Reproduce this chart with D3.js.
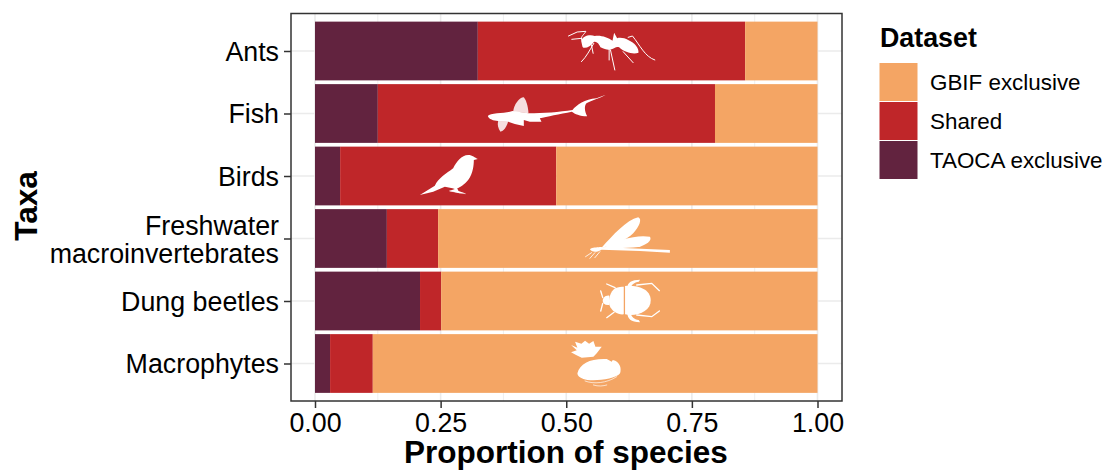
<!DOCTYPE html>
<html>

<head>
    <meta charset="utf-8">
    <script src="https://d3js.org/d3.v7.min.js"></script>
    <style>
        html, body { margin: 0; padding: 0; background: #fff; }
        svg { display: block; }
        text { font-family: "Liberation Sans", Arial, sans-serif; fill: #000; }
    </style>
</head>

<body>
    <script>
        // values
        const taxa = ["Ants", "Fish", "Birds", "Freshwater\nmacroinvertebrates", "Dung beetles", "Macrophytes"];
        const taoca = [0.324, 0.125, 0.05, 0.143, 0.209, 0.03];
        const shared = [0.532, 0.671, 0.43, 0.102, 0.042, 0.085];
        const gbif = [0.144, 0.204, 0.52, 0.755, 0.749, 0.885];

        const seriesNames = ["TAOCA exclusive", "Shared", "GBIF exclusive"];
        const seriesColors = ["#62233f", "#bf2629", "#f4a564"];
        const legendOrder = ["GBIF exclusive", "Shared", "TAOCA exclusive"];
        const xTicks = [0, 0.25, 0.5, 0.75, 1];
        const xMinor = [0.125, 0.375, 0.625, 0.875];

        // where the silhouette sits along each bar
        const iconAt = [0.59, 0.46, 0.265, 0.62, 0.625, 0.56];

        const width = 1104;
        const height = 470;
        const panel = { left: 291, right: 842, top: 13.5, bottom: 401 };

        const svg = d3.select("body").append("svg")
            .attr("width", width)
            .attr("height", height);

        const x = d3.scaleLinear().domain([0, 1]).range([315, 817.5]);
        const y = d3.scalePoint().domain(taxa).range([panel.top, panel.bottom]).padding(0.6);
        const barH = y.step() * 0.94;
        const color = d3.scaleOrdinal().domain(seriesNames).range(seriesColors);

        // grid
        svg.append("g").selectAll("line").data(xMinor).join("line")
            .attr("x1", d => x(d)).attr("x2", d => x(d))
            .attr("y1", panel.top).attr("y2", panel.bottom)
            .attr("stroke", "#ebebeb").attr("stroke-width", 0.8);
        svg.append("g").selectAll("line").data(xTicks).join("line")
            .attr("x1", d => x(d)).attr("x2", d => x(d))
            .attr("y1", panel.top).attr("y2", panel.bottom)
            .attr("stroke", "#ebebeb").attr("stroke-width", 1.6);
        svg.append("g").selectAll("line").data(taxa).join("line")
            .attr("x1", panel.left).attr("x2", panel.right)
            .attr("y1", d => y(d)).attr("y2", d => y(d))
            .attr("stroke", "#ebebeb").attr("stroke-width", 1.6);

        // stacked bars
        const rows = taxa.map((t, i) => ({
            taxon: t,
            "TAOCA exclusive": taoca[i],
            "Shared": shared[i],
            "GBIF exclusive": gbif[i]
        }));
        const stacked = d3.stack().keys(seriesNames)(rows);

        svg.append("g").selectAll("g").data(stacked).join("g")
            .attr("fill", d => color(d.key))
            .selectAll("rect").data(d => d).join("rect")
            .attr("x", d => x(d[0]))
            .attr("width", d => x(d[1]) - x(d[0]))
            .attr("y", d => y(d.data.taxon) - barH / 2)
            .attr("height", barH);

        // white silhouettes, drawn at 3x and scaled down
        const icons = [
            { // ant
                cx: 395, cy: 123,
                fill: ["M304,92C308,78 330,72 345,78C360,74 385,82 398,92L403,68L412,85C420,82 435,84 445,90C465,98 478,115 476,128C462,134 435,128 418,112C410,108 403,115 395,118C385,122 375,118 362,112C358,100 348,92 342,96C332,112 312,118 308,110Z"],
                line: ["M306,90C300,80 315,72 318,64L292,66L266,78", "M305,85L276,88", "M342,100C330,120 320,140 305,155", "M335,105L340,130", "M388,115L388,150", "M392,120L405,180", "M445,82L458,78C480,105 495,140 525,150", "M430,125L460,158"],
                lineW: 3
            },
            { // fish
                cx: 199, cy: 310.5,
                fill: ["M24,318C30,308 70,310 90,305L98,303L146,310C190,310 240,306 278,300C290,285 315,268 350,265L378,254C360,265 335,270 320,280C312,290 315,305 322,319C300,318 285,312 276,305C240,312 200,320 180,325L185,335L150,335L132,330L132,348L105,342L85,335L55,333C40,332 28,328 24,318Z"],
                soft: ["M100,305C102,285 118,262 132,262C142,275 145,295 146,310Z", "M85,334C82,350 70,365 62,365C55,355 52,345 55,333Z"],
                line: [], lineW: 0
            },
            { // bird
                cx: 115, cy: 93,
                fill: ["M30,150L75,122C85,100 110,85 130,70C140,50 155,30 175,30C188,30 195,38 204,42L192,45C192,60 190,85 175,105C165,118 150,128 142,130L146,138L165,145L148,145L130,140L118,138L135,132L128,130L105,125L70,140Z"],
                line: ["M120,138L166,146"], lineW: 2
            },
            { // damselfly
                cx: 260, cy: 100.5,
                fill: ["M150,133C158,126 170,128 180,126L390,135L390,143L300,138L185,134C175,140 160,145 150,133Z",
                    "M185,128C220,90 260,45 295,37C308,42 298,65 280,85C260,105 220,122 185,128Z",
                    "M190,128C230,105 290,88 330,95C338,105 320,120 295,126C260,130 220,130 190,128Z"],
                line: ["M155,143L137,155", "M165,143L150,160", "M180,140L165,158"],
                lineW: 2.5
            },
            { // dung beetle
                cx: 267, cy: 288,
                fill: ["M255,243C290,240 330,250 332,285C333,320 290,335 255,328Z",
                    "M251,245L251,328C235,330 215,320 208,300C204,285 210,260 225,250C235,245 245,245 251,245Z",
                    "M208,272C195,270 188,280 188,287C188,295 195,302 208,300Z",
                    "M262,248C262,232 275,224 300,224L296,230C282,232 274,240 272,248Z",
                    "M262,325C262,340 272,352 300,352L296,345C282,344 274,335 272,325Z"],
                line: ["M225,248L200,237", "M222,322L200,338", "M290,240L335,235L358,257", "M290,330L335,335L358,318", "M188,278L182,258", "M188,295L182,318"],
                lineW: 4
            },
            { // water lily
                cx: 169, cy: 475.5,
                fill: ["M112,505C120,475 150,460 200,462L215,470L218,465C240,470 245,490 240,505C225,525 150,530 130,522C118,518 112,512 112,505Z",
                    "M93,420L112,428L105,410L124,416L135,407L147,416L160,408L166,425L185,425L170,445L160,455L125,458L108,450L93,442L110,436Z"],
                line: ["M135,528C160,538 200,535 230,515", "M160,540C175,545 190,543 200,540"],
                lineW: 2
            }
        ];

        const iconG = svg.append("g").selectAll("g").data(icons).join("g")
            .attr("transform", (d, i) => `translate(${x(iconAt[i])},${y(taxa[i])}) scale(${1 / 3}) translate(${-d.cx},${-d.cy})`);
        iconG.selectAll("path.fill").data(d => d.fill).join("path")
            .attr("class", "fill").attr("d", d => d).attr("fill", "#fff");
        iconG.selectAll("path.soft").data(d => d.soft || []).join("path")
            .attr("class", "soft").attr("d", d => d).attr("fill", "#fff").attr("fill-opacity", 0.85);
        iconG.selectAll("path.line").data(d => d.line.map(p => ({ p: p, w: d.lineW }))).join("path")
            .attr("class", "line").attr("d", d => d.p).attr("fill", "none")
            .attr("stroke", "#fff").attr("stroke-width", d => d.w).attr("stroke-linecap", "round");

        // panel border
        svg.append("rect")
            .attr("x", panel.left).attr("y", panel.top)
            .attr("width", panel.right - panel.left).attr("height", panel.bottom - panel.top)
            .attr("fill", "none").attr("stroke", "#333").attr("stroke-width", 1.5);

        // axes
        const xAxis = svg.append("g")
            .attr("transform", `translate(0,${panel.bottom})`)
            .call(d3.axisBottom(x).tickValues(xTicks).tickFormat(d3.format(".2f")).tickSize(7).tickPadding(5));
        const yAxis = svg.append("g")
            .attr("transform", `translate(${panel.left},0)`)
            .call(d3.axisLeft(y).tickSize(7).tickPadding(5));
        svg.selectAll(".domain").remove();
        svg.selectAll(".tick line").attr("stroke", "#333").attr("stroke-width", 1.5);
        xAxis.selectAll("text").style("font-size", "26.8px").attr("fill", "#000");
        yAxis.selectAll("text").style("font-size", "26.8px").attr("fill", "#000").attr("dy", "0.35em");

        // two line label
        yAxis.selectAll(".tick text").each(function(d) {
            const parts = d.split("\n");
            if (parts.length < 2) return;
            const t = d3.select(this).text(null).attr("dy", null);
            parts.forEach((p, i) => {
                t.append("tspan").attr("x", -12)
                    .attr("y", i === 0 ? -4.5 : 23.8)
                    .text(p);
            });
        });

        svg.append("text")
            .attr("x", 566).attr("y", 463)
            .attr("text-anchor", "middle")
            .style("font-size", "31.5px").style("font-weight", "bold")
            .text("Proportion of species");
        svg.append("text")
            .attr("transform", "translate(37,206) rotate(-90)")
            .attr("text-anchor", "middle")
            .style("font-size", "31.5px").style("font-weight", "bold")
            .text("Taxa");

        // legend
        const legY = d3.scaleBand().domain(legendOrder).range([62.5, 179.5]);
        svg.append("text")
            .attr("x", 880).attr("y", 47)
            .style("font-size", "26.8px").style("font-weight", "bold")
            .text("Dataset");
        const leg = svg.append("g").selectAll("g").data(legendOrder).join("g");
        leg.append("rect")
            .attr("x", 879.5).attr("y", d => legY(d) + 0.5)
            .attr("width", 38).attr("height", legY.bandwidth() - 1)
            .attr("fill", d => color(d));
        leg.append("text")
            .attr("x", 930).attr("y", d => legY(d) + legY.bandwidth() / 2 + 7.5)
            .style("font-size", "22.4px")
            .text(d => d);
    </script>
</body>

</html>
